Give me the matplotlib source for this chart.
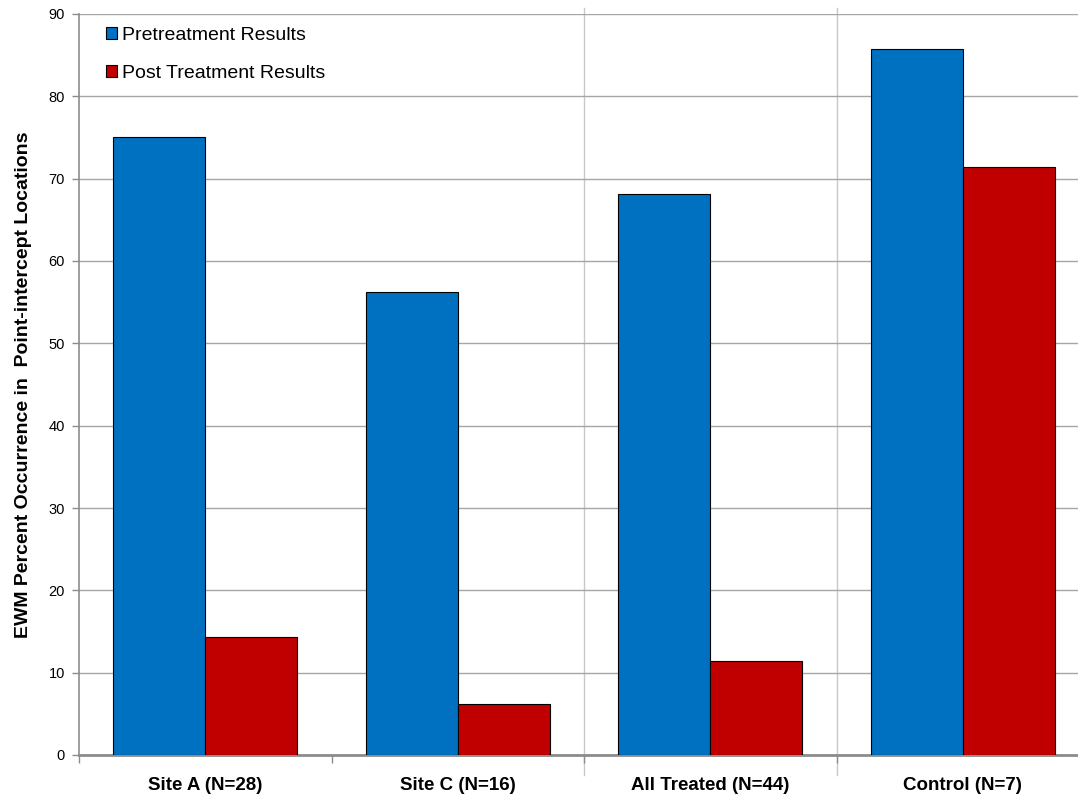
"""
EWM percent occurrence before / after treatment, grouped bar chart
"""

import matplotlib
matplotlib.use("Agg")
import matplotlib.pyplot as plt
import numpy as np

plt.rcParams["font.family"] = ["Liberation Sans", "DejaVu Sans"]

CATEGORIES = ["Site A (N=28)", "Site C (N=16)", "All Treated (N=44)", "Control (N=7)"]
PRE = [75.0, 56.25, 68.18, 85.71]
POST = [14.29, 6.25, 11.36, 71.43]
SERIES = ["Pretreatment Results", "Post Treatment Results"]
COLORS = ["#0070C0", "#C00000"]
YTICKS = list(range(0, 91, 10))

BAR_W = 0.364


def main():
    fig = plt.figure(figsize=(10.78, 7.95), dpi=100)
    ax = fig.add_axes([79 / 1078, 40 / 795, 1010 / 1078, 741 / 795])

    x = np.arange(len(CATEGORIES))
    ax.bar(x - BAR_W / 2, PRE, BAR_W, color=COLORS[0], edgecolor="black",
           linewidth=0.8, label=SERIES[0], zorder=3)
    ax.bar(x + BAR_W / 2, POST, BAR_W, color=COLORS[1], edgecolor="black",
           linewidth=0.8, label=SERIES[1], zorder=3)

    ax.set_xlim(-0.5, len(CATEGORIES) - 0.5)
    ax.set_ylim(0, 90)
    ax.set_yticks(YTICKS)
    ax.yaxis.grid(True, color="#A6A6A6", linewidth=1.0, zorder=0)

    # category labels on major ticks, tick marks on boundaries
    ax.set_xticks(x)
    ax.set_xticklabels(CATEGORIES, fontsize=13.5, fontweight="bold")
    ax.set_xticks(np.arange(-0.5, len(CATEGORIES) - 0.5, 1.0), minor=True)
    ax.tick_params(axis="x", which="major", length=0, pad=16)
    ax.tick_params(axis="x", which="minor", length=6, color="#8C8C8C", width=1)
    ax.tick_params(axis="y", length=5, color="#8C8C8C", width=1, labelsize=10.5, pad=5)

    # light separators between groups
    for xv in (1.5, 2.5):
        ax.axvline(xv, ymin=-0.027, ymax=1.008, color="#C8C8C8", linewidth=1,
                   clip_on=False, zorder=1)

    for side in ("top", "right"):
        ax.spines[side].set_visible(False)
    ax.spines["left"].set_color("#8C8C8C")
    ax.spines["left"].set_linewidth(1.2)
    ax.spines["bottom"].set_color("#8C8C8C")
    ax.spines["bottom"].set_linewidth(2)

    ax.set_ylabel("EWM Percent Occurrence in  Point-intercept Locations",
                  fontsize=14, fontweight="bold")
    ax.yaxis.set_label_coords(-0.047, 0.5)

    ax.legend(loc="upper left", bbox_to_anchor=(0.027, 0.983), frameon=False,
              fontsize=14, handlelength=0.55, handleheight=0.55,
              handletextpad=0.25, labelspacing=1.1, borderaxespad=0,
              borderpad=0)

    fig.savefig("out.png", dpi=100, facecolor="white")
    plt.close(fig)


if __name__ == "__main__":
    main()
